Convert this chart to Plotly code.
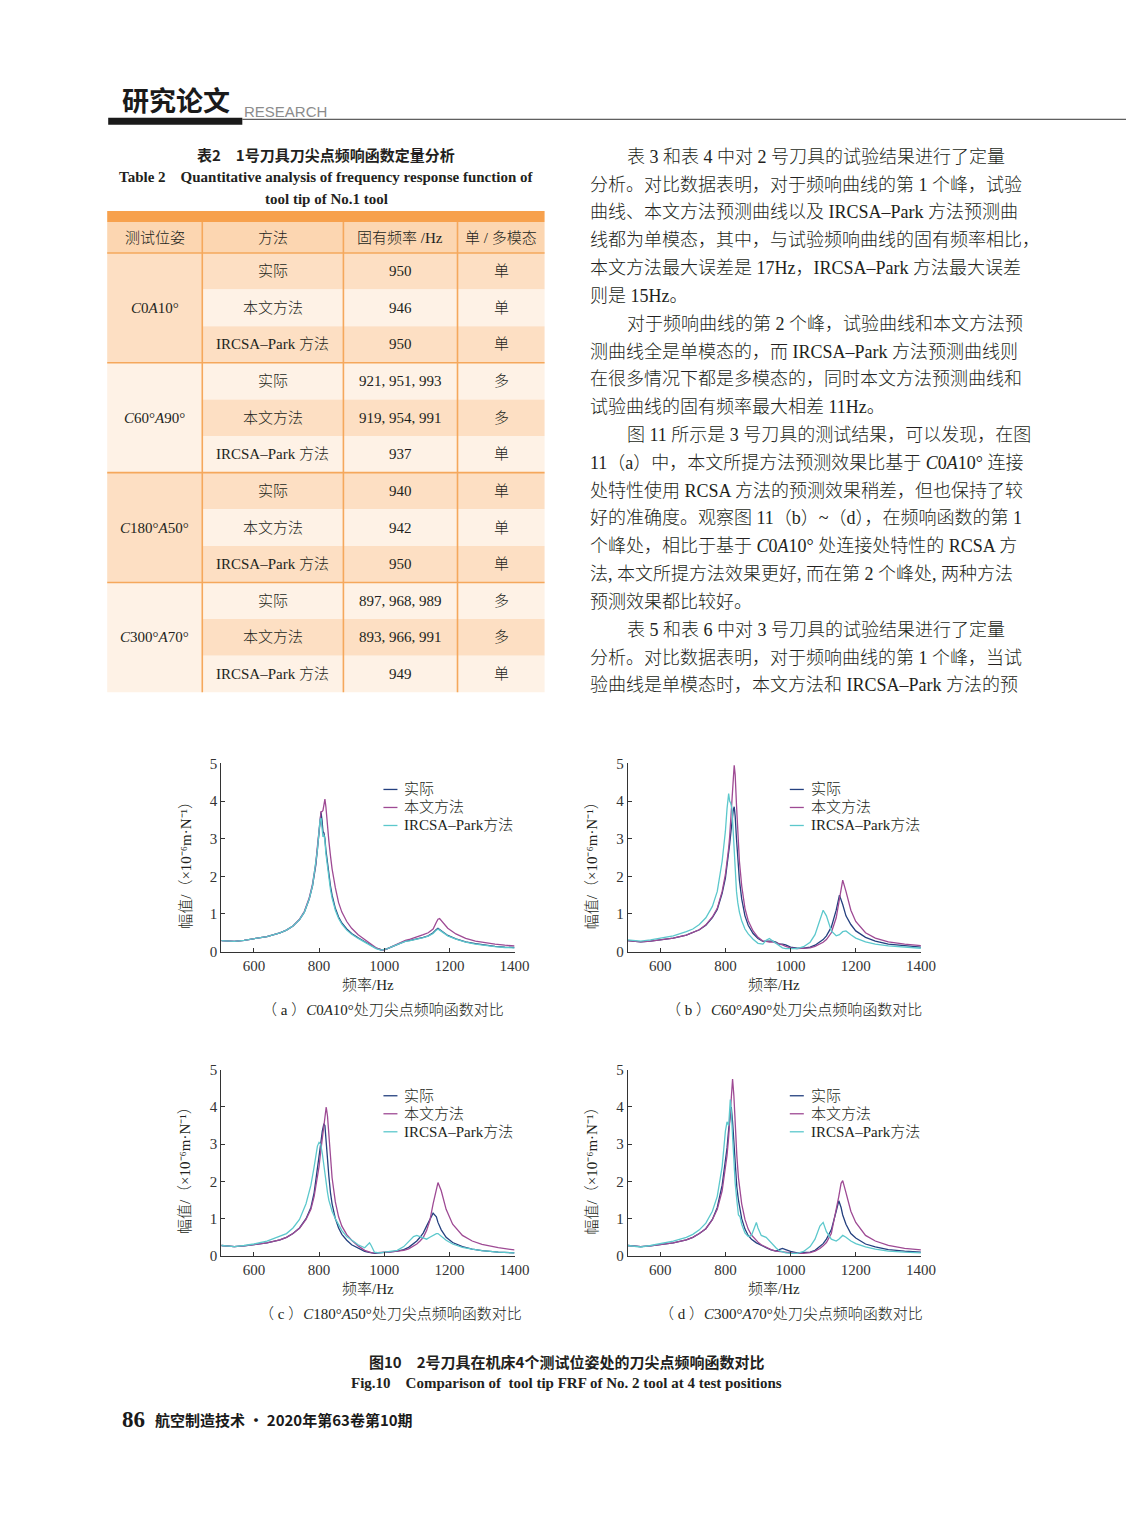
import plotly.graph_objects as go

# The photographed page is mapped onto the picture with a small fixed scale / offset;
# layout positions below are given in picture pixels and converted to page pixels.
SX, SY, OY = 0.986, 0.9885, 8.4
PAD = 8  # default page margin of the browser
W, H = 1142, 1520
SERIF = "Liberation Serif, 'Noto Sans CJK SC', serif"
CJK = "'Noto Sans CJK SC', sans-serif"
INK = "#231f20"

# ---------------- data ----------------
series_names = ["实际", "本文方法", "IRCSA–Park方法"]
series_colors = ["#24407f", "#9e4a94", "#5cc8cc"]

panel_captions = [
    "（ a ）<i>C</i>0<i>A</i>10°处刀尖点频响函数对比",
    "（ b ）<i>C</i>60°<i>A</i>90°处刀尖点频响函数对比",
    "（ c ）<i>C</i>180°<i>A</i>50°处刀尖点频响函数对比",
    "（ d ）<i>C</i>300°<i>A</i>70°处刀尖点频响函数对比",
]
x_ticks = [600, 800, 1000, 1200, 1400]
y_ticks = [0, 1, 2, 3, 4, 5]

freq_a = [500, 520, 540, 570, 600, 640, 680, 700, 720, 740, 755, 770, 780, 790, 795, 800, 803, 806, 809, 812,
          815, 818, 821, 825, 830, 835, 840, 850, 860, 870, 885, 900, 920, 940, 960, 975, 990, 1000, 1010, 1030,
          1050, 1065, 1080, 1100, 1120, 1135, 1150, 1160, 1165, 1170, 1180, 1195, 1220, 1250, 1280, 1310, 1340, 1370, 1400]
actual_a = [0.29, 0.27, 0.27, 0.30, 0.34, 0.40, 0.50, 0.57, 0.68, 0.85, 1.05, 1.40, 1.75, 2.30, 2.72, 3.25, 3.60, 3.70, 3.50, 3.20,
            3.15, 3.00, 2.70, 2.40, 2.05, 1.75, 1.50, 1.15, 0.92, 0.76, 0.60, 0.48, 0.37, 0.27, 0.16, 0.09, 0.05, 0.05, 0.08, 0.15,
            0.23, 0.28, 0.30, 0.33, 0.38, 0.42, 0.50, 0.59, 0.62, 0.59, 0.52, 0.43, 0.34, 0.26, 0.21, 0.17, 0.14, 0.12, 0.11]
method_a = [0.29, 0.27, 0.27, 0.30, 0.34, 0.40, 0.50, 0.57, 0.68, 0.86, 1.07, 1.43, 1.80, 2.35, 2.80, 3.30, 3.60, 3.72, 3.72, 3.75,
            3.90, 4.05, 3.85, 3.40, 2.95, 2.55, 2.20, 1.70, 1.30, 1.05, 0.80, 0.62, 0.45, 0.32, 0.18, 0.10, 0.05, 0.05, 0.08, 0.16,
            0.24, 0.30, 0.33, 0.38, 0.45, 0.50, 0.60, 0.78, 0.86, 0.88, 0.78, 0.62, 0.47, 0.35, 0.28, 0.23, 0.20, 0.17, 0.15]
ircsa_a = [0.29, 0.27, 0.27, 0.30, 0.34, 0.40, 0.50, 0.57, 0.68, 0.85, 1.05, 1.40, 1.75, 2.30, 2.70, 3.20, 3.50, 3.55, 3.30, 3.05,
           3.10, 2.95, 2.60, 2.30, 1.95, 1.65, 1.42, 1.10, 0.88, 0.73, 0.57, 0.46, 0.35, 0.25, 0.15, 0.08, 0.04, 0.05, 0.08, 0.15,
           0.22, 0.27, 0.29, 0.32, 0.37, 0.41, 0.48, 0.57, 0.60, 0.57, 0.50, 0.42, 0.33, 0.25, 0.20, 0.16, 0.13, 0.11, 0.10]

freq_b = [500, 520, 540, 570, 600, 640, 680, 700, 720, 740, 760, 775, 790, 800, 805, 810, 813, 816, 820, 824,
          827, 830, 834, 838, 843, 850, 860, 870, 885, 900, 915, 925, 935, 945, 955, 965, 975, 985, 1000, 1020,
          1040, 1060, 1075, 1090, 1100, 1110, 1125, 1140, 1150, 1160, 1170, 1185, 1200, 1230, 1260, 1300, 1350, 1400]
actual_b = [0.29, 0.28, 0.26, 0.28, 0.31, 0.36, 0.44, 0.50, 0.58, 0.70, 0.90, 1.12, 1.55, 1.95, 2.25, 2.60, 2.85, 3.10, 3.45, 3.75,
            3.85, 3.60, 3.00, 2.40, 1.90, 1.40, 0.95, 0.70, 0.48, 0.35, 0.27, 0.28, 0.27, 0.28, 0.25, 0.20, 0.20, 0.18, 0.12, 0.09,
            0.09, 0.12, 0.17, 0.25, 0.32, 0.42, 0.65, 1.10, 1.50, 1.25, 0.95, 0.72, 0.55, 0.38, 0.28, 0.20, 0.15, 0.12]
method_b = [0.29, 0.28, 0.26, 0.28, 0.31, 0.36, 0.44, 0.50, 0.58, 0.71, 0.92, 1.15, 1.60, 2.05, 2.35, 2.75, 3.05, 3.40, 3.95, 4.55,
            4.95, 4.70, 3.90, 3.10, 2.40, 1.75, 1.15, 0.82, 0.55, 0.38, 0.28, 0.27, 0.25, 0.26, 0.24, 0.22, 0.18, 0.14, 0.10, 0.08,
            0.08, 0.10, 0.14, 0.20, 0.25, 0.32, 0.50, 0.90, 1.40, 1.90, 1.60, 1.10, 0.80, 0.50, 0.36, 0.26, 0.20, 0.16]
ircsa_b = [0.31, 0.30, 0.28, 0.31, 0.35, 0.42, 0.53, 0.60, 0.72, 0.90, 1.20, 1.60, 2.40, 3.20, 3.80, 4.20, 4.00, 3.95, 3.80, 3.20,
           2.60, 2.10, 1.60, 1.30, 1.05, 0.82, 0.60, 0.47, 0.33, 0.22, 0.20, 0.30, 0.35, 0.28, 0.22, 0.15, 0.10, 0.08, 0.08, 0.08,
           0.13, 0.25, 0.45, 0.85, 1.10, 0.95, 0.55, 0.42, 0.45, 0.53, 0.55, 0.45, 0.36, 0.26, 0.20, 0.15, 0.12, 0.09]

freq_c = [500, 520, 540, 570, 600, 640, 680, 700, 720, 740, 760, 775, 785, 795, 800, 805, 810, 815, 818, 822,
          826, 830, 835, 840, 850, 860, 870, 885, 900, 920, 940, 950, 955, 960, 970, 985, 1000, 1020, 1040, 1060,
          1075, 1090, 1100, 1110, 1120, 1130, 1140, 1150, 1160, 1165, 1175, 1190, 1210, 1240, 1270, 1300, 1350, 1400]
actual_c = [0.28, 0.27, 0.25, 0.27, 0.30, 0.35, 0.43, 0.50, 0.60, 0.75, 1.00, 1.30, 1.70, 2.30, 2.65, 3.00, 3.35, 3.55, 3.50, 3.00,
            2.55, 2.15, 1.70, 1.40, 1.00, 0.75, 0.58, 0.42, 0.30, 0.20, 0.12, 0.10, 0.09, 0.08, 0.07, 0.08, 0.10, 0.11, 0.13, 0.17,
            0.23, 0.32, 0.40, 0.50, 0.62, 0.80, 1.00, 1.15, 1.05, 0.90, 0.70, 0.50, 0.36, 0.25, 0.18, 0.14, 0.10, 0.08]
method_c = [0.28, 0.27, 0.25, 0.27, 0.30, 0.35, 0.43, 0.50, 0.60, 0.74, 0.98, 1.25, 1.60, 2.10, 2.40, 2.80, 3.20, 3.60, 3.85, 4.00,
            3.75, 3.20, 2.60, 2.10, 1.45, 1.05, 0.80, 0.57, 0.42, 0.27, 0.15, 0.11, 0.10, 0.09, 0.08, 0.08, 0.10, 0.11, 0.12, 0.15,
            0.19, 0.26, 0.32, 0.40, 0.50, 0.68, 0.95, 1.40, 1.85, 1.97, 1.75, 1.25, 0.85, 0.55, 0.40, 0.31, 0.22, 0.16]
ircsa_c = [0.28, 0.27, 0.25, 0.28, 0.32, 0.40, 0.52, 0.60, 0.75, 0.98, 1.40, 1.90, 2.40, 2.95, 3.05, 3.00, 2.75, 2.40, 2.15, 1.90,
           1.70, 1.50, 1.35, 1.20, 1.00, 0.82, 0.68, 0.52, 0.42, 0.30, 0.22, 0.30, 0.35, 0.28, 0.10, 0.08, 0.10, 0.12, 0.15, 0.25,
           0.38, 0.52, 0.55, 0.52, 0.50, 0.45, 0.50, 0.55, 0.60, 0.60, 0.52, 0.42, 0.32, 0.23, 0.18, 0.14, 0.10, 0.08]

freq_d = [500, 520, 540, 570, 600, 640, 680, 700, 720, 740, 760, 775, 790, 800, 805, 810, 815, 818, 822, 826,
          830, 835, 840, 845, 850, 860, 870, 880, 890, 895, 900, 910, 925, 940, 955, 965, 975, 985, 1000, 1020,
          1040, 1060, 1075, 1090, 1100, 1110, 1125, 1140, 1148, 1155, 1160, 1170, 1185, 1200, 1230, 1260, 1300, 1350, 1400]
actual_d = [0.28, 0.27, 0.25, 0.27, 0.30, 0.35, 0.43, 0.50, 0.60, 0.73, 0.98, 1.30, 1.90, 2.50, 2.90, 3.40, 3.85, 4.00, 3.60, 3.00,
            2.40, 1.85, 1.50, 1.20, 1.00, 0.72, 0.55, 0.45, 0.37, 0.35, 0.33, 0.28, 0.22, 0.16, 0.13, 0.17, 0.20, 0.17, 0.12, 0.08,
            0.08, 0.10, 0.15, 0.25, 0.33, 0.45, 0.70, 1.20, 1.48, 1.30, 1.10, 0.85, 0.60, 0.48, 0.32, 0.24, 0.17, 0.13, 0.10]
method_d = [0.28, 0.27, 0.25, 0.27, 0.30, 0.35, 0.43, 0.50, 0.60, 0.73, 0.97, 1.25, 1.75, 2.30, 2.70, 3.20, 3.80, 4.30, 4.75, 4.30,
            3.50, 2.70, 2.10, 1.70, 1.40, 0.98, 0.72, 0.56, 0.45, 0.40, 0.37, 0.30, 0.23, 0.17, 0.13, 0.12, 0.12, 0.11, 0.09, 0.07,
            0.07, 0.09, 0.13, 0.20, 0.27, 0.36, 0.60, 1.20, 1.60, 1.95, 2.02, 1.70, 1.20, 0.90, 0.55, 0.40, 0.28, 0.20, 0.16]
ircsa_d = [0.28, 0.27, 0.24, 0.28, 0.33, 0.40, 0.50, 0.58, 0.70, 0.88, 1.20, 1.60, 2.40, 3.35, 3.60, 3.50, 4.20, 3.90, 3.20, 2.50,
           1.95, 1.50, 1.10, 1.05, 0.85, 0.62, 0.52, 0.55, 0.80, 0.90, 0.75, 0.55, 0.50, 0.35, 0.22, 0.14, 0.10, 0.08, 0.07, 0.07,
           0.12, 0.25, 0.45, 0.80, 0.90, 0.65, 0.45, 0.40, 0.45, 0.52, 0.55, 0.50, 0.40, 0.33, 0.24, 0.18, 0.13, 0.10, 0.08]

panels_freq = [freq_a, freq_b, freq_c, freq_d]
panels_values = [[actual_a, method_a, ircsa_a], [actual_b, method_b, ircsa_b],
                 [actual_c, method_c, ircsa_c], [actual_d, method_d, ircsa_d]]

table_header = ["测试位姿", "方法", "固有频率 /Hz", "单 / 多模态"]
table_positions = ["<i>C</i>0<i>A</i>10°", "<i>C</i>60°<i>A</i>90°", "<i>C</i>180°<i>A</i>50°", "<i>C</i>300°<i>A</i>70°"]
table_methods = ["实际", "本文方法", "IRCSA–Park 方法"]
table_freqs = [["950", "946", "950"], ["921, 951, 993", "919, 954, 991", "937"],
               ["940", "942", "950"], ["897, 968, 989", "893, 966, 991", "949"]]
table_modes = [["单", "单", "单"], ["多", "多", "单"], ["单", "单", "单"], ["多", "多", "单"]]

body_lines = [
    (True, "表 3 和表 4 中对 2 号刀具的试验结果进行了定量"),
    (False, "分析。对比数据表明，对于频响曲线的第 1 个峰，试验"),
    (False, "曲线、本文方法预测曲线以及 IRCSA–Park 方法预测曲"),
    (False, "线都为单模态，其中，与试验频响曲线的固有频率相比，"),
    (False, "本文方法最大误差是 17Hz，IRCSA–Park 方法最大误差"),
    (False, "则是 15Hz。"),
    (True, "对于频响曲线的第 2 个峰，试验曲线和本文方法预"),
    (False, "测曲线全是单模态的，而 IRCSA–Park 方法预测曲线则"),
    (False, "在很多情况下都是多模态的，同时本文方法预测曲线和"),
    (False, "试验曲线的固有频率最大相差 11Hz。"),
    (True, "图 11 所示是 3 号刀具的测试结果，可以发现，在图"),
    (False, "11（a）中，本文所提方法预测效果比基于 <i>C</i>0<i>A</i>10° 连接"),
    (False, "处特性使用 RCSA 方法的预测效果稍差，但也保持了较"),
    (False, "好的准确度。观察图 11（b）~（d），在频响函数的第 1"),
    (False, "个峰处，相比于基于 <i>C</i>0<i>A</i>10° 处连接处特性的 RCSA 方"),
    (False, "法, 本文所提方法效果更好, 而在第 2 个峰处, 两种方法"),
    (False, "预测效果都比较好。"),
    (True, "表 5 和表 6 中对 3 号刀具的试验结果进行了定量"),
    (False, "分析。对比数据表明，对于频响曲线的第 1 个峰，当试"),
    (False, "验曲线是单模态时，本文方法和 IRCSA–Park 方法的预"),
]

# ---------------- helpers (picture pixel -> paper) ----------------
def px(x):
    return (x / SX - PAD) / W


def py(y):
    return 1 - ((y - OY) / SY - PAD) / H


annotations = []
shapes = []


def txt(x, y, s, size, family=SERIF, color=INK, xanchor="center", angle=0, weight=None):
    f = dict(size=size, family=family, color=color)
    if weight is not None:
        f["weight"] = weight
    annotations.append(dict(x=px(x), y=py(y), xref="paper", yref="paper", text=s, showarrow=False,
                            xanchor=xanchor, yanchor="middle", textangle=angle, font=f))


def rect(x0, y0, x1, y1, color):
    shapes.append(dict(type="rect", xref="paper", yref="paper", x0=px(x0), x1=px(x1), y0=py(y1), y1=py(y0),
                       fillcolor=color, line=dict(width=0), layer="below"))


def hline(x0, x1, y, color, width):
    shapes.append(dict(type="line", xref="paper", yref="paper", x0=px(x0), x1=px(x1), y0=py(y), y1=py(y),
                       line=dict(color=color, width=width)))


def vline(x, y0, y1, color, width):
    shapes.append(dict(type="line", xref="paper", yref="paper", x0=px(x), x1=px(x), y0=py(y0), y1=py(y1),
                       line=dict(color=color, width=width)))


# ---------------- header ----------------
txt(120, 100, "<b>研究论文</b>", 27, CJK, "#1a1a1a", xanchor="left")
txt(242, 112, "RESEARCH", 15, "Liberation Sans, Arial, sans-serif", "#8c8c8c", xanchor="left")
rect(108, 118, 242, 125, "#1a1a1a")
hline(242, 1134, 119.5, "#333333", 1)

# ---------------- table ----------------
txt(326, 155, "<b>表2　1号刀具刀尖点频响函数定量分析</b>", 15, CJK)
txt(326, 177, "<b>Table 2　Quantitative analysis of frequency response function of</b>", 15, SERIF)
txt(326, 199, "<b>tool tip of No.1 tool</b>", 15, SERIF)

TX0, TX1 = 107, 544
col_edges = [107, 202, 343, 457, 544]
col_centers = [(col_edges[i] + col_edges[i + 1]) / 2 for i in range(4)]
DARK, LIGHT, HEAD, BAR, LINE = "#fddfc3", "#fef2e6", "#fcd6b1", "#f7a14d", "#f5a85c"
rect(TX0, 211, TX1, 222, BAR)
rect(TX0, 222, TX1, 253, HEAD)
row_h = (692 - 253) / 12
for g in range(4):
    gy0 = 253 + g * 3 * row_h
    rect(col_edges[0], gy0, col_edges[1], gy0 + 3 * row_h, DARK if g % 2 == 0 else LIGHT)
    txt(col_centers[0], gy0 + 1.5 * row_h, table_positions[g], 15, SERIF)
    for r in range(3):
        ry0 = gy0 + r * row_h
        rect(col_edges[1], ry0, TX1, ry0 + row_h, DARK if (g + r) % 2 == 0 else LIGHT)
        cy = ry0 + row_h / 2
        txt(col_centers[1], cy, table_methods[r], 15, SERIF, weight=300)
        txt(col_centers[2], cy, table_freqs[g][r], 15, SERIF)
        txt(col_centers[3], cy, table_modes[g][r], 15, SERIF, weight=300)
for i, h in enumerate(table_header):
    txt(col_centers[i], 238, h, 15, SERIF, weight=300)
for x in col_edges[1:4]:
    vline(x, 222, 692, LINE, 1.6)
for g in range(4):
    hline(TX0, TX1, 253 + g * 3 * row_h, LINE, 1.6)

# ---------------- body text ----------------
for i, (indent, line) in enumerate(body_lines):
    y = 157 + i * (685 - 157) / 19
    txt(624 if indent else 587, y, line, 18, SERIF, INK, xanchor="left", weight=300)

# ---------------- plots ----------------
dom_x = [(221, 514), (627, 920), (221, 514), (627, 920)]
dom_y = [(763, 951), (763, 951), (1069, 1255), (1069, 1255)]
cap_x = [383, 793, 390, 790]
fig = go.Figure()
for k in range(4):
    n = "" if k == 0 else str(k + 1)
    for s in range(3):
        fig.add_trace(go.Scatter(x=panels_freq[k], y=panels_values[k][s], mode="lines", name=series_names[s],
                                 line=dict(color=series_colors[s], width=1.3), showlegend=False,
                                 xaxis="x" + n, yaxis="y" + n))
    x0, x1 = dom_x[k]
    y0, y1 = dom_y[k]
    axis_common = dict(showline=True, linecolor="#333333", linewidth=1, ticks="inside", ticklen=4,
                       tickcolor="#333333", showgrid=False, zeroline=False,
                       tickfont=dict(size=15, family=SERIF, color="#333333"))
    fig.update_layout(**{
        "xaxis" + n: dict(domain=[px(x0), px(x1)], range=[500, 1400], tickvals=x_ticks,
                          anchor="y" + n, **axis_common),
        "yaxis" + n: dict(domain=[py(y1), py(y0)], range=[0, 5], tickvals=y_ticks,
                          anchor="x" + n, **axis_common),
    })
    mid_x = (x0 + x1) / 2
    txt(mid_x, y1 + 33, "频率/Hz", 15, SERIF, weight=300)
    txt(x0 - 36, (y0 + y1) / 2 + 4, "幅值/（×10⁻⁶m·N⁻¹）", 15, SERIF, angle=-90, weight=300)
    txt(cap_x[k], y1 + 58, panel_captions[k], 15, SERIF, weight=300)
    # legend
    lx = x0 + 162
    for s in range(3):
        ly = y0 + 26 + s * 18
        hline(lx, lx + 14, ly, series_colors[s], 1.3)
        txt(lx + 19, ly, series_names[s], 15, SERIF, xanchor="left", weight=300)

# ---------------- figure caption and footer ----------------
txt(566, 1360, "<b>图10　2号刀具在机床4个测试位姿处的刀尖点频响函数对比</b>", 15, CJK)
txt(566, 1382, "<b>Fig.10　Comparison of  tool tip FRF of No. 2 tool at 4 test positions</b>", 15, SERIF)
txt(120, 1418, "<b>86</b>", 23, SERIF, "#1a1a1a", xanchor="left")
txt(153, 1418, "<b>航空制造技术 · 2020年第63卷第10期</b>", 15, CJK, "#1a1a1a", xanchor="left")

fig.update_layout(width=W, height=H, margin=dict(l=0, r=0, t=0, b=0), paper_bgcolor="white",
                  plot_bgcolor="white", annotations=annotations, shapes=shapes, showlegend=False)
fig.write_html("out.html", config={"displayModeBar": False})
